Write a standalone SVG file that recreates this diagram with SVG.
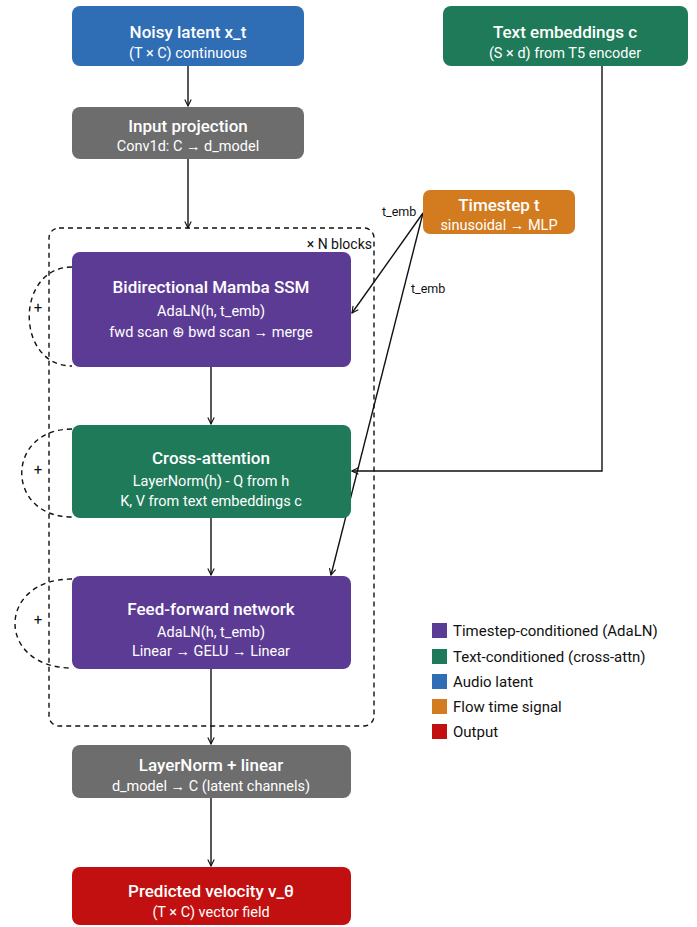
<svg xmlns="http://www.w3.org/2000/svg" width="697" height="927" viewBox="0 0 697 927">
<defs>
<style>
.t{font-family:Roboto,"Liberation Sans",sans-serif;font-size:17px;font-weight:500;fill:#fff;text-anchor:middle}
.s{font-family:Roboto,"Liberation Sans",sans-serif;font-size:14.5px;fill:#fff;text-anchor:middle}
.lbl{font-family:Roboto,"Liberation Sans",sans-serif;font-size:12.5px;fill:#111}
.leg{font-family:Roboto,"Liberation Sans",sans-serif;font-size:15px;fill:#111}
.c{stroke:#111;stroke-width:1.4;fill:none}
.d{stroke:#111;stroke-width:1.4;fill:none;stroke-dasharray:5 4}
.blue{fill:#2f6db5}.grey{fill:#6d6d6d}.green{fill:#1e7a59}.purple{fill:#5c3b95}.orange{fill:#d27b1f}.red{fill:#c20f0f}
</style>
<marker id="a" viewBox="0 0 10 10" refX="9" refY="5" markerWidth="8" markerHeight="8" orient="auto-start-reverse" markerUnits="userSpaceOnUse">
<path d="M1,1 L9,5 L1,9" fill="none" stroke="#111" stroke-width="1.4"/>
</marker>
</defs>
<rect width="697" height="927" fill="#fff"/>
<g id="container">
<rect x="49" y="228" width="325" height="498" rx="10" class="d"/>
<text x="372" y="249" class="lbl" style="font-size:14px" text-anchor="end">× N blocks</text>
</g>
<g id="connectors">
<line x1="188" y1="66" x2="188" y2="106" class="c" marker-end="url(#a)"/>
<line x1="188" y1="159" x2="188" y2="228" class="c" marker-end="url(#a)"/>
<line x1="211" y1="367" x2="211" y2="424" class="c" marker-end="url(#a)"/>
<line x1="211" y1="518" x2="211" y2="575" class="c" marker-end="url(#a)"/>
<line x1="211" y1="669" x2="211" y2="744" class="c" marker-end="url(#a)"/>
<line x1="211" y1="798" x2="211" y2="866" class="c" marker-end="url(#a)"/>
<polyline points="602,66 602,471 352,471" class="c" marker-end="url(#a)"/>
<line x1="423" y1="213" x2="352" y2="313" class="c" marker-end="url(#a)"/>
<line x1="423" y1="213" x2="331" y2="575" class="c" marker-end="url(#a)"/>
<text x="382" y="216" class="lbl">t_emb</text>
<text x="411" y="293" class="lbl">t_emb</text>
<path d="M72,267 C15,267 15,366 72,366" class="d"/>
<path d="M72,429 C5,429 5,517 72,517" class="d"/>
<path d="M72,579 C-4,579 -4,668 72,668" class="d"/>
<text x="38" y="313" class="lbl" style="font-size:15px" text-anchor="middle">+</text>
<text x="38" y="475" class="lbl" style="font-size:15px" text-anchor="middle">+</text>
<text x="38" y="625" class="lbl" style="font-size:15px" text-anchor="middle">+</text>
</g>
<g id="noisy">
<rect x="72" y="6" width="232" height="60" rx="8" class="blue"/>
<text x="188" y="38" class="t">Noisy latent x_t</text>
<text x="188" y="58" class="s">(T × C) continuous</text>
</g>
<g id="inproj">
<rect x="72" y="107" width="232" height="52" rx="8" class="grey"/>
<text x="188" y="132" class="t">Input projection</text>
<text x="188" y="151" class="s">Conv1d: C → d_model</text>
</g>
<g id="textemb">
<rect x="443" y="6" width="245" height="60" rx="8" class="green"/>
<text x="565" y="38" class="t">Text embeddings c</text>
<text x="565" y="58" class="s">(S × d) from T5 encoder</text>
</g>
<g id="timestep">
<rect x="423" y="190" width="152" height="44" rx="7" class="orange"/>
<text x="499" y="211" class="t">Timestep t</text>
<text x="499" y="230" class="s">sinusoidal → MLP</text>
</g>
<g id="mamba">
<rect x="72" y="252" width="279" height="115" rx="8" class="purple"/>
<text x="211" y="293" class="t">Bidirectional Mamba SSM</text>
<text x="211" y="316" class="s">AdaLN(h, t_emb)</text>
<text x="211" y="337" class="s">fwd scan ⊕ bwd scan → merge</text>
</g>
<g id="crossattn">
<rect x="72" y="425" width="279" height="93" rx="8" class="green"/>
<text x="211" y="464" class="t">Cross-attention</text>
<text x="211" y="486" class="s">LayerNorm(h) - Q from h</text>
<text x="211" y="506" class="s">K, V from text embeddings c</text>
</g>
<g id="ffn">
<rect x="72" y="576" width="279" height="93" rx="8" class="purple"/>
<text x="211" y="615" class="t">Feed-forward network</text>
<text x="211" y="637" class="s">AdaLN(h, t_emb)</text>
<text x="211" y="656" class="s">Linear → GELU → Linear</text>
</g>
<g id="outln">
<rect x="72" y="745" width="279" height="53" rx="8" class="grey"/>
<text x="211" y="771" class="t">LayerNorm + linear</text>
<text x="211" y="791" class="s">d_model → C (latent channels)</text>
</g>
<g id="pred">
<rect x="72" y="867" width="279" height="58" rx="8" class="red"/>
<text x="211" y="897" class="t">Predicted velocity v_θ</text>
<text x="211" y="917" class="s">(T × C) vector field</text>
</g>
<g id="legend">
<rect x="432" y="623" width="15" height="15" class="purple"/>
<text x="453" y="636" class="leg">Timestep-conditioned (AdaLN)</text>
<rect x="432" y="649" width="15" height="15" class="green"/>
<text x="453" y="662" class="leg">Text-conditioned (cross-attn)</text>
<rect x="432" y="674" width="15" height="15" class="blue"/>
<text x="453" y="687" class="leg">Audio latent</text>
<rect x="432" y="699" width="15" height="15" class="orange"/>
<text x="453" y="712" class="leg">Flow time signal</text>
<rect x="432" y="724" width="15" height="15" class="red"/>
<text x="453" y="737" class="leg">Output</text>
</g>
</svg>
